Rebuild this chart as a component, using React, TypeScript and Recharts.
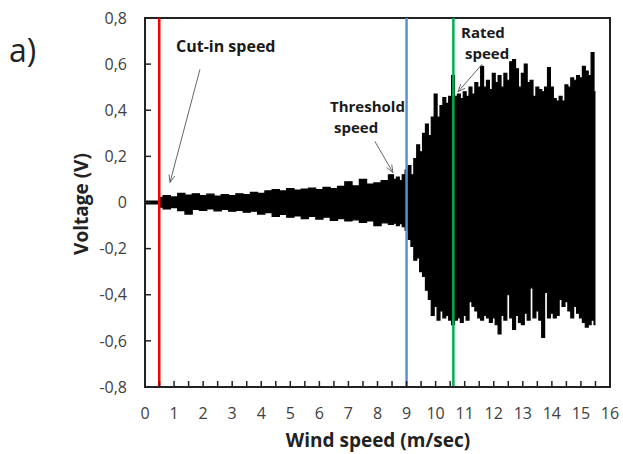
import React from 'react';
import {
  ComposedChart,
  Area,
  XAxis,
  YAxis,
  ReferenceLine,
  ReferenceArea,
} from 'recharts';

// Wind speed (m/sec) sample positions
const windSpeed = [
  0, 0.45,
  0.5, 0.75, 1, 1.25, 1.5, 1.75, 2, 2.25, 2.5, 2.75, 3, 3.25, 3.5, 3.75, 4, 4.25,
  4.5, 4.75, 5, 5.25, 5.5, 5.75, 6, 6.25, 6.5, 6.75, 7, 7.25, 7.5, 7.75, 8, 8.25, 8.5,
  8.6, 8.7, 8.8, 8.9, 9.0, 9.1, 9.2, 9.3, 9.4, 9.5, 9.6, 9.7, 9.8, 9.9, 10.0, 10.1,
  10.2, 10.3, 10.4, 10.5, 10.6,
  10.7, 10.8, 10.9, 11.0, 11.1, 11.2, 11.3, 11.4, 11.5, 11.6, 11.7, 11.8, 11.9, 12.0,
  12.1, 12.2, 12.3, 12.4, 12.5, 12.6, 12.7, 12.8, 12.9, 13.0, 13.1, 13.2, 13.3, 13.4,
  13.5, 13.6, 13.7, 13.8, 13.9, 14.0, 14.1, 14.2, 14.3, 14.4, 14.5, 14.6, 14.7, 14.8,
  14.9, 15.0, 15.1, 15.2, 15.3, 15.4, 15.5,
];

// Upper envelope of the voltage signal (V)
const upperVoltage = [
  0.006, 0.006,
  0.022, 0.03, 0.024, 0.04, 0.032, 0.038, 0.03, 0.036, 0.028, 0.034, 0.03, 0.038, 0.034,
  0.044, 0.04, 0.05, 0.056, 0.05, 0.06, 0.054, 0.058, 0.062, 0.056, 0.066, 0.06, 0.07,
  0.09, 0.072, 0.1, 0.08, 0.085, 0.095, 0.12,
  0.1, 0.11, 0.095, 0.12, 0.14, 0.16, 0.12, 0.19, 0.25, 0.22, 0.3, 0.34, 0.29, 0.37,
  0.47, 0.37, 0.42, 0.455, 0.43, 0.46, 0.55,
  0.46, 0.47, 0.45, 0.48, 0.46, 0.5, 0.47, 0.52, 0.5, 0.59, 0.5, 0.53, 0.49, 0.56, 0.52,
  0.55, 0.5, 0.56, 0.53, 0.61, 0.62, 0.58, 0.5, 0.56, 0.6, 0.52, 0.53, 0.46, 0.5, 0.49,
  0.48, 0.5, 0.585, 0.5, 0.45, 0.44, 0.46, 0.44, 0.51, 0.5, 0.54, 0.53, 0.55, 0.54, 0.59,
  0.57, 0.55, 0.65, 0.48,
];

// Lower envelope of the voltage signal (V)
const lowerVoltage = [
  -0.006, -0.006,
  -0.02, -0.028, -0.022, -0.035, -0.05, -0.03, -0.034, -0.028, -0.036, -0.03, -0.038,
  -0.034, -0.042, -0.038, -0.05, -0.044, -0.06, -0.052, -0.064, -0.058, -0.07, -0.06,
  -0.072, -0.064, -0.078, -0.07, -0.08, -0.075, -0.086, -0.08, -0.1, -0.088, -0.095,
  -0.09, -0.1, -0.092, -0.105, -0.12, -0.16, -0.19, -0.25, -0.24, -0.3, -0.32, -0.38,
  -0.42, -0.49, -0.45, -0.51, -0.47, -0.5, -0.49, -0.51, -0.53,
  -0.51, -0.5, -0.52, -0.49, -0.51, -0.43, -0.45, -0.47, -0.5, -0.51, -0.49, -0.5, -0.52,
  -0.5, -0.53, -0.57, -0.49, -0.51, -0.4, -0.5, -0.55, -0.49, -0.52, -0.53, -0.48, -0.51,
  -0.37, -0.5, -0.47, -0.51, -0.585, -0.39, -0.5, -0.48, -0.5, -0.49, -0.42, -0.45,
  -0.43, -0.47, -0.5, -0.45, -0.48, -0.5, -0.52, -0.54, -0.53, -0.51, -0.53,
];

const xTicks = [
  0, 0.5, 1, 1.5, 2, 2.5, 3, 3.5, 4, 4.5, 5, 5.5, 6, 6.5, 7, 7.5, 8, 8.5, 9, 9.5, 10,
  10.5, 11, 11.5, 12, 12.5, 13, 13.5, 14, 14.5, 15, 15.5, 16,
];
const yTicks = [-0.8, -0.6, -0.4, -0.2, 0, 0.2, 0.4, 0.6, 0.8];

const cutInSpeed = 0.49;
const thresholdSpeed = 9.0;
const ratedSpeed = 10.61;

const cutInArrow = [{ x: 1.89, y: 0.577 }, { x: 0.86, y: 0.087 }];
const thresholdArrow = [{ x: 7.91, y: 0.265 }, { x: 8.53, y: 0.13 }];
const ratedArrow = [{ x: 11.6, y: 0.6 }, { x: 10.77, y: 0.48 }];

const data = windSpeed.map((x, i) => ({
  x,
  range: [lowerVoltage[i], upperVoltage[i]],
}));

const FONT = '"Open Sans", "Liberation Sans", sans-serif';

const ArrowShape = (props: any) => {
  const { x1, y1, x2, y2 } = props;
  if ([x1, y1, x2, y2].some((v) => typeof v !== 'number' || isNaN(v))) return <g />;
  const ang = Math.atan2(y2 - y1, x2 - x1);
  const len = 8;
  const spread = 0.38;
  const ax1 = x2 - len * Math.cos(ang - spread);
  const ay1 = y2 - len * Math.sin(ang - spread);
  const ax2 = x2 - len * Math.cos(ang + spread);
  const ay2 = y2 - len * Math.sin(ang + spread);
  return (
    <g>
      <line x1={x1} y1={y1} x2={x2} y2={y2} stroke="#666" strokeWidth={1} />
      <polyline
        points={`${ax1},${ay1} ${x2},${y2} ${ax2},${ay2}`}
        fill="none"
        stroke="#666"
        strokeWidth={1}
      />
    </g>
  );
};

const fmtY = (v: number) => (v === 0 ? '0' : v.toFixed(1).replace('.', ','));
const fmtX = (v: number) => (Number.isInteger(v) ? String(v) : '');

export default function App() {
  return (
    <div style={{ position: 'absolute', left: 0, top: 0, width: 623, height: 454, background: '#fff' }}>
      <ComposedChart
        width={623}
        height={454}
        data={data}
        margin={{ top: 18, right: 13, bottom: 27, left: 85 }}
      >
        <XAxis
          type="number"
          dataKey="x"
          domain={[0, 16]}
          ticks={xTicks}
          interval={0}
          tickFormatter={fmtX}
          allowDataOverflow
          height={40}
          tickSize={-6}
          tickMargin={27}
          axisLine={{ stroke: '#222', strokeWidth: 2 }}
          tickLine={{ stroke: '#222', strokeWidth: 1.5 }}
          tick={{ fontFamily: FONT, fontSize: 16, fill: '#404040' }}
        />
        <YAxis
          type="number"
          domain={[-0.8, 0.8]}
          ticks={yTicks}
          interval={0}
          tickFormatter={fmtY}
          allowDataOverflow
          width={60}
          tickSize={-6}
          tickMargin={24}
          axisLine={{ stroke: '#222', strokeWidth: 2 }}
          tickLine={{ stroke: '#222', strokeWidth: 1.5 }}
          tick={{ fontFamily: FONT, fontSize: 16, fill: '#404040' }}
        />
        <ReferenceArea
          x1={0}
          x2={16}
          y1={-0.8}
          y2={0.8}
          fill="none"
          fillOpacity={0}
          stroke="#222"
          strokeWidth={2}
          ifOverflow="visible"
        />
        <Area
          type="step"
          dataKey="range"
          stroke="#000"
          strokeWidth={1.2}
          fill="#000"
          fillOpacity={1}
          isAnimationActive={false}
          dot={false}
          activeDot={false}
        />
        <ReferenceLine x={cutInSpeed} stroke="#ff0000" strokeWidth={2.5} />
        <ReferenceLine x={thresholdSpeed} stroke="#5b8fd6" strokeWidth={2.5} />
        <ReferenceLine x={ratedSpeed} stroke="#00b050" strokeWidth={2.5} />
        <ReferenceLine segment={cutInArrow} shape={ArrowShape} />
        <ReferenceLine segment={thresholdArrow} shape={ArrowShape} />
        <ReferenceLine segment={ratedArrow} shape={ArrowShape} />
      </ComposedChart>
      <svg
        width={623}
        height={454}
        style={{ position: 'absolute', left: 0, top: 0, pointerEvents: 'none' }}
      >
        <text x={9} y={62} fontFamily={FONT} fontSize={32} fill="#222">
          a)
        </text>
        <text x={176} y={52} fontFamily={FONT} fontSize={16} fontWeight="bold" fill="#1a1a1a">
          Cut-in speed
        </text>
        <text x={330} y={112} fontFamily={FONT} fontSize={15} fontWeight="bold" fill="#1a1a1a">
          Threshold
        </text>
        <text x={334} y={133} fontFamily={FONT} fontSize={15} fontWeight="bold" fill="#1a1a1a">
          speed
        </text>
        <text x={461} y={38} fontFamily={FONT} fontSize={15} fontWeight="bold" fill="#1a1a1a">
          Rated
        </text>
        <text x={465} y={59} fontFamily={FONT} fontSize={15} fontWeight="bold" fill="#1a1a1a">
          speed
        </text>
        <text
          x={378}
          y={447}
          textAnchor="middle"
          fontFamily={FONT}
          fontSize={19}
          fontWeight="bold"
          fill="#222"
        >
          Wind speed (m/sec)
        </text>
        <text
          x={0}
          y={0}
          transform="translate(88,204) rotate(-90)"
          textAnchor="middle"
          fontFamily={FONT}
          fontSize={19}
          fontWeight="bold"
          fill="#222"
        >
          Voltage (V)
        </text>
      </svg>
    </div>
  );
}
